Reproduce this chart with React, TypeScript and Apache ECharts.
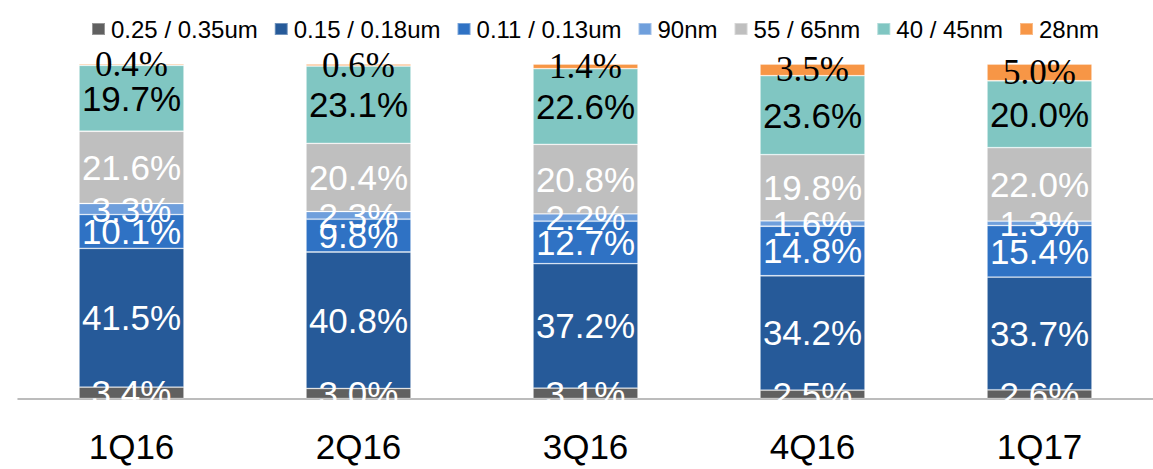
import React, { useEffect, useRef } from "react";
import * as echarts from "echarts";

const categories = ["1Q16", "2Q16", "3Q16", "4Q16", "1Q17"];
const seriesNames = ["0.25 / 0.35um", "0.15 / 0.18um", "0.11 / 0.13um", "90nm", "55 / 65nm", "40 / 45nm", "28nm"];
const v025 = [3.4, 3.0, 3.1, 2.5, 2.6];
const v015 = [41.5, 40.8, 37.2, 34.2, 33.7];
const v011 = [10.1, 9.8, 12.7, 14.8, 15.4];
const v90 = [3.3, 2.3, 2.2, 1.6, 1.3];
const v55 = [21.6, 20.4, 20.8, 19.8, 22.0];
const v40 = [19.7, 23.1, 22.6, 23.6, 20.0];
const v28 = [0.4, 0.6, 1.4, 3.5, 5.0];
const seriesValues = [v025, v015, v011, v90, v55, v40, v28];
const colors = ["#606060", "#265a99", "#2f72c4", "#6f9fdc", "#bfbfbf", "#80c6c2", "#f79646"];
const labelColors = ["#ffffff", "#ffffff", "#ffffff", "#ffffff", "#ffffff", "#000000", "#000000"];
const labelFonts = [
  "'Liberation Sans', Arial, sans-serif",
  "'Liberation Sans', Arial, sans-serif",
  "'Liberation Sans', Arial, sans-serif",
  "'Liberation Sans', Arial, sans-serif",
  "'Liberation Sans', Arial, sans-serif",
  "'Liberation Sans', Arial, sans-serif",
  "'Liberation Serif', 'Times New Roman', serif",
];

export default function App() {
  const ref = useRef<HTMLDivElement>(null);
  useEffect(() => {
    if (!ref.current) return;
    const chart = echarts.init(ref.current, null, { renderer: "svg" });
    const sans = "'Liberation Sans', Arial, sans-serif";
    chart.setOption({
      animation: false,
      legend: {
        left: 86,
        top: 12,
        itemWidth: 13,
        itemHeight: 12,
        itemGap: 16,
        icon: "rect",
        textStyle: { fontFamily: sans, fontSize: 24, color: "#000", padding: [0, 0, 0, 1] },
        data: seriesNames,
      },
      grid: { left: 18, right: 0, top: 64, bottom: 70.5, containLabel: false },
      xAxis: {
        type: "category",
        data: categories,
        axisLine: { lineStyle: { color: "#a6a6a6", width: 1.5 } },
        axisTick: { show: false },
        axisLabel: { fontFamily: sans, fontSize: 35, color: "#000", margin: 30 },
      },
      yAxis: {
        type: "value",
        min: 0,
        max: 100,
        show: false,
        splitLine: { show: false },
      },
      series: seriesNames.map((name, i) => ({
        name,
        type: "bar",
        stack: "total",
        barWidth: 105,
        data: seriesValues[i],
        itemStyle: { color: colors[i], borderColor: "rgba(255,255,255,0.35)", borderWidth: 0.8 },
        label: {
          show: true,
          position: "inside",
          formatter: (p: any) => p.value.toFixed(1) + "%",
          color: labelColors[i],
          fontFamily: labelFonts[i],
          fontSize: 35,
        },
        labelLayout: { hideOverlap: false },
      })),
    });
    return () => chart.dispose();
  }, []);
  return <div ref={ref} style={{ position: "absolute", left: 0, top: 0, width: 1153, height: 469 }} />;
}
